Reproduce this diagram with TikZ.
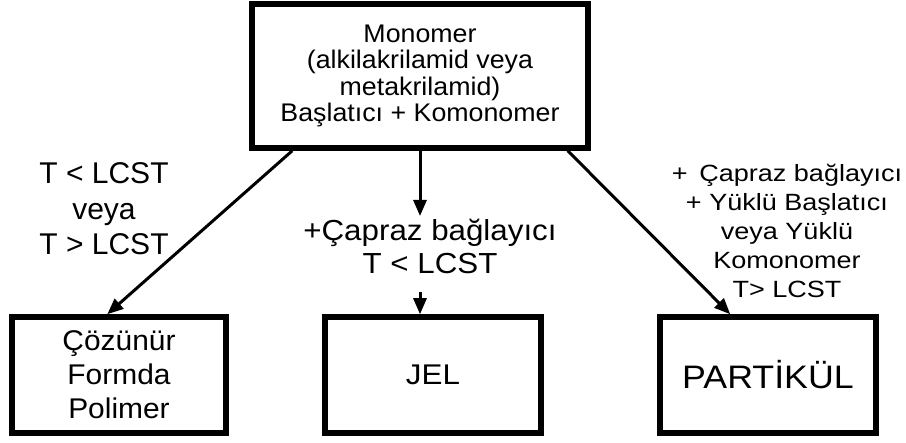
\documentclass[tikz,border=0pt]{standalone}
\usepackage{fontspec}
\setmainfont{Liberation Sans}
\newfontfamily\stretchA[FakeStretch=1.05]{Liberation Sans}
\newfontfamily\stretchB[FakeStretch=1.1]{Liberation Sans}
\newfontfamily\stretchC[FakeStretch=1.15]{Liberation Sans}
\newfontfamily\stretchD[FakeStretch=1.08]{Liberation Sans}
\usetikzlibrary{arrows.meta}
\begin{document}
\begin{tikzpicture}[x=1pt,y=-1pt,
  box/.style={draw,line width=5.5pt,align=center,inner sep=0pt},
  arr/.style={line width=3pt,-{Triangle[length=16pt,width=13pt]}},
  lbl/.style={align=center,inner sep=0pt}]
\useasboundingbox (0,0) rectangle (906,443);
% boxes
\node[box,minimum width=336pt,minimum height=144pt,
  font=\stretchA\fontsize{25.5}{26.3}\selectfont] (top) at (420,76)
  {Monomer\\(alkilakrilamid veya\\metakrilamid)\\Başlatıcı + Komonomer};
\node[box,minimum width=214pt,minimum height=116pt,
  font=\stretchA\fontsize{28.5}{34}\selectfont] (poly) at (119,375)
  {Çözünür\\Formda\\Polimer};
\node[box,minimum width=216pt,minimum height=116pt,
  font=\stretchB\fontsize{28.5}{34}\selectfont] (jel) at (433,375) {JEL};
\node[box,minimum width=216pt,minimum height=116pt,
  font=\stretchB\fontsize{32.5}{36}\selectfont] (part) at (768,375) {PARTİKÜL};
% labels
\node[lbl,font=\fontsize{30}{35.5}\selectfont] (l1) at (104,209)
  {T < LCST\\veya\\T > LCST};
\node[lbl,font=\stretchD\fontsize{29}{33}\selectfont] (l2) at (430,246)
  {+Çapraz bağlayıcı\\T < LCST};
\node[lbl,font=\stretchC\fontsize{23.5}{29}\selectfont] (l3) at (787,231)
  {+\enspace Çapraz bağlayıcı\\+ Yüklü Başlatıcı\\veya Yüklü\\Komonomer\\T> LCST};
% connectors
\coordinate (m1) at (420,216);
\coordinate (m2) at (420,292);
\draw[arr] ([xshift=43pt]top.south west) -- ([xshift=98pt]poly.north west);
\draw[arr] (top.south -| m1) -- (m1);
\draw[arr] (m2) -- (m2 |- jel.north);
\draw[arr] ([xshift=-23pt]top.south east) -- ([xshift=73pt]part.north west);
\end{tikzpicture}
\end{document}
